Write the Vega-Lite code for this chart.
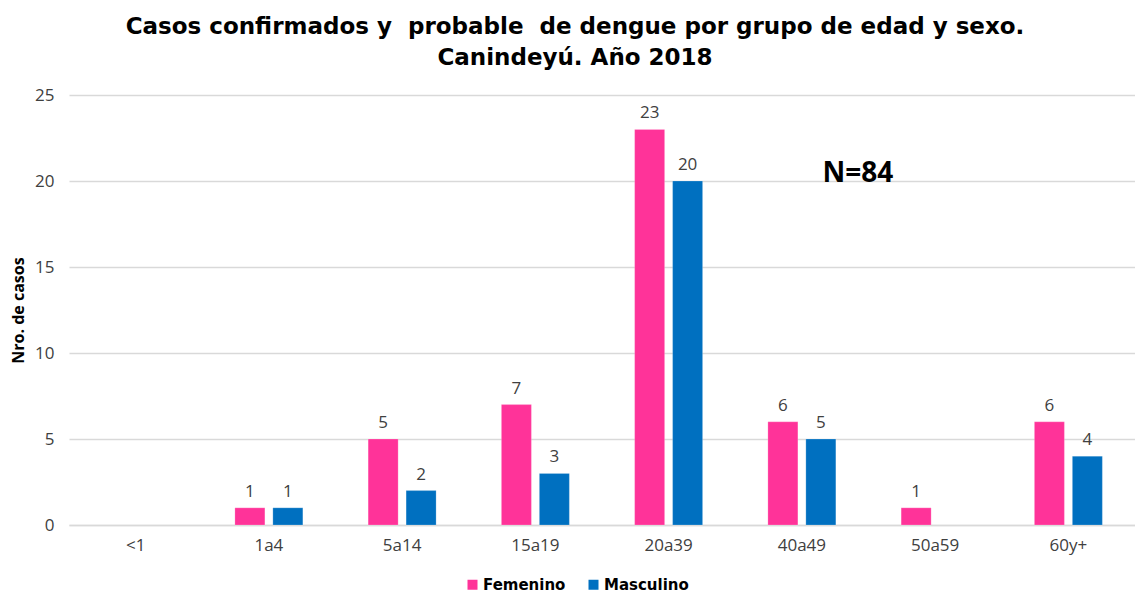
{
  "$schema": "https://vega.github.io/schema/vega-lite/v6.json",
  "autosize": "none",
  "width": 1066,
  "height": 430,
  "padding": {"left": 69, "top": 95, "right": 0, "bottom": 68},
  "background": "white",
  "title": {
    "text": ["Casos confirmados y\u00a0 probable\u00a0 de dengue por grupo de edad y sexo.", "Canindeyú. Año 2018"],
    "fontSize": 23,
    "font": "DejaVu Sans",
    "fontWeight": "bold",
    "color": "#000000",
    "anchor": "middle",
    "dx": -27,
    "offset": 16,
    "lineHeight": 31
  },
  "config": {
    "view": {"stroke": null},
    "font": "Open Sans"
  },
  "data": {
    "values": [
      {"grupo": "1a4", "sexo": "Femenino", "casos": 1},
      {"grupo": "1a4", "sexo": "Masculino", "casos": 1},
      {"grupo": "5a14", "sexo": "Femenino", "casos": 5},
      {"grupo": "5a14", "sexo": "Masculino", "casos": 2},
      {"grupo": "15a19", "sexo": "Femenino", "casos": 7},
      {"grupo": "15a19", "sexo": "Masculino", "casos": 3},
      {"grupo": "20a39", "sexo": "Femenino", "casos": 23},
      {"grupo": "20a39", "sexo": "Masculino", "casos": 20},
      {"grupo": "40a49", "sexo": "Femenino", "casos": 6},
      {"grupo": "40a49", "sexo": "Masculino", "casos": 5},
      {"grupo": "50a59", "sexo": "Femenino", "casos": 1},
      {"grupo": "60y+", "sexo": "Femenino", "casos": 6},
      {"grupo": "60y+", "sexo": "Masculino", "casos": 4}
    ]
  },
  "encoding": {
    "x": {
      "field": "grupo",
      "type": "nominal",
      "scale": {"domain": ["<1", "1a4", "5a14", "15a19", "20a39", "40a49", "50a59", "60y+"], "paddingInner": 0.49, "paddingOuter": 0.245},
      "axis": {
        "title": null,
        "labelAngle": 0,
        "labelFontSize": 17,
        "labelColor": "#404040",
        "labelPadding": 12,
        "ticks": false,
        "domain": true,
        "domainColor": "#d9d9d9",
        "domainWidth": 1.5,
        "grid": false
      }
    },
    "xOffset": {
      "field": "sexo",
      "type": "nominal",
      "scale": {"domain": ["Femenino", "Masculino"], "paddingInner": 0.21, "paddingOuter": 0}
    },
    "y": {
      "field": "casos",
      "type": "quantitative",
      "scale": {"domain": [0, 25], "nice": false},
      "axis": {
        "title": "Nro. de casos",
        "titleFontSize": 16,
        "titleFontWeight": "bold",
        "titleColor": "#000000",
        "titlePadding": 8,
        "values": [0, 5, 10, 15, 20, 25],
        "labelFontSize": 17,
        "labelColor": "#404040",
        "labelPadding": 15,
        "ticks": false,
        "domain": false,
        "gridColor": "#d9d9d9",
        "gridWidth": 1.5
      }
    }
  },
  "layer": [
    {
      "mark": {"type": "bar", "stroke": "white", "strokeOpacity": 0.4, "strokeWidth": 0.5},
      "encoding": {
        "color": {
          "field": "sexo",
          "type": "nominal",
          "scale": {"domain": ["Femenino", "Masculino"], "range": ["#FF3399", "#0070C0"]},
          "legend": {
            "title": null,
            "orient": "none",
            "direction": "horizontal",
            "legendX": 396,
            "legendY": 482,
            "symbolType": "square",
            "symbolSize": 100,
            "symbolStrokeWidth": 0,
            "labelFont": "DejaVu Sans",
            "labelFontSize": 15,
            "labelFontWeight": "bold",
            "labelColor": "#000000",
            "labelOffset": 3,
            "columnPadding": 20
          }
        }
      }
    },
    {
      "mark": {"type": "text", "baseline": "alphabetic", "dy": -11, "fontSize": 17, "color": "#404040"},
      "encoding": {
        "text": {"field": "casos", "type": "quantitative"}
      }
    },
    {
      "data": {"values": [{"grupo": "40a49", "casos": 20.4, "txt": "N=84"}]},
      "mark": {"type": "text", "fontSize": 28, "fontWeight": "bold", "color": "#000000", "dx": 56, "baseline": "middle"},
      "encoding": {
        "x": {"field": "grupo", "type": "nominal"},
        "y": {"field": "casos", "type": "quantitative"},
        "xOffset": null,
        "text": {"field": "txt"}
      }
    }
  ]
}
